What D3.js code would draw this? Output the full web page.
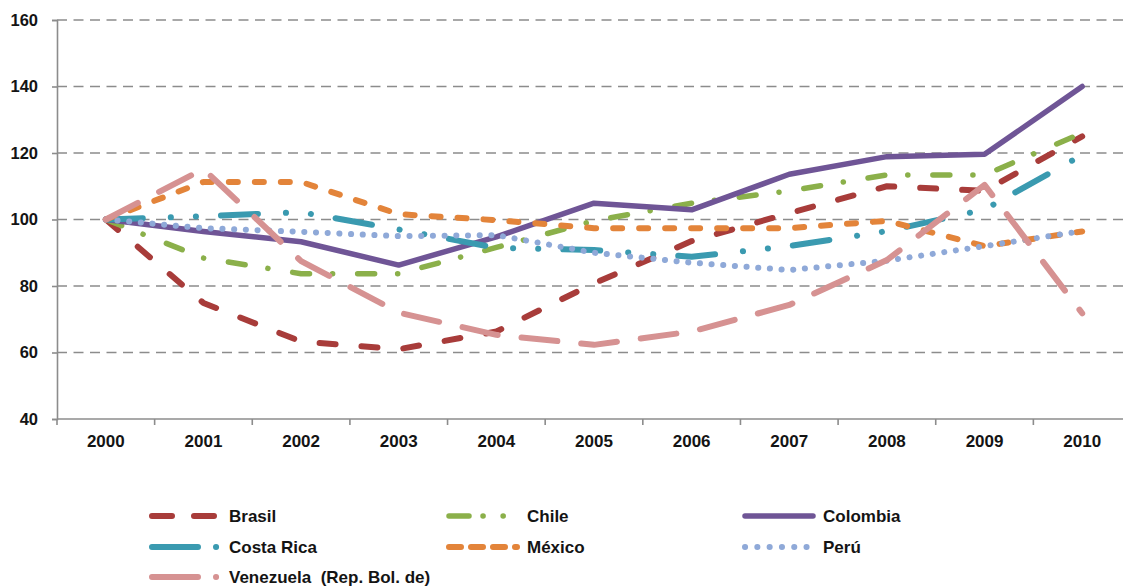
<!DOCTYPE html>
<html>
<head>
<meta charset="utf-8">
<script src="https://cdn.jsdelivr.net/npm/d3@7"></script>
<style>
  html, body { margin: 0; padding: 0; background: #ffffff; }
  svg { display: block; }
  text { font-family: "Liberation Sans", Arial, sans-serif; font-weight: bold; fill: #141414; }
</style>
</head>
<body>
<svg id="chart" width="1123" height="587"></svg>
<script>
const years = ["2000","2001","2002","2003","2004","2005","2006","2007","2008","2009","2010"];
const yTicks = [40, 60, 80, 100, 120, 140, 160];

const brasil     = [100, 74.9, 63.3, 61.0, 66.3, 80.8, 93.5, 101.9, 110.0, 108.6, 125.0];
const chile      = [100, 88.4, 83.7, 83.7, 91.6, 99.6, 104.9, 108.6, 113.4, 113.4, 126.0];
const colombia   = [100, 96.4, 93.3, 86.3, 94.8, 104.9, 102.9, 113.6, 118.9, 119.6, 140.0];
const costaRica  = [100, 101.0, 102.2, 97.0, 91.5, 90.8, 88.8, 92.0, 96.5, 103.0, 119.4];
const mexico     = [100, 111.3, 111.3, 101.6, 99.8, 97.4, 97.4, 97.4, 99.6, 92.0, 96.4];
const peru       = [100, 97.4, 96.3, 95.0, 95.3, 90.0, 87.0, 84.8, 87.6, 92.0, 96.5];
const venezuela  = [100, 115.2, 87.5, 72.0, 65.3, 62.3, 66.3, 74.3, 87.8, 110.4, 71.8];

const seriesNames = ["Brasil", "Chile", "Colombia", "Costa Rica", "México", "Perú", "Venezuela  (Rep. Bol. de)"];
const seriesValues = [brasil, chile, colombia, costaRica, mexico, peru, venezuela];

const styles = [
  { color: "#a83c3a", width: 6,   dash: "16 26",                 legendDash: "20 22" },
  { color: "#8bb04a", width: 5.5, dash: "17 23 0.1 25",          legendDash: "20 14 0.1 20 0.1 14" },
  { color: "#6f5596", width: 5.5, dash: null,                    legendDash: null },
  { color: "#3a9ab0", width: 6,   dash: "37 28 0.1 25 0.1 25",   legendDash: "46 18 0.1 30" },
  { color: "#e3843a", width: 6,   dash: "9 17",                  legendDash: "12 10" },
  { color: "#8fa9d8", width: 6,   dash: "0.1 11.6",              legendDash: "0.1 12.2" },
  { color: "#d69292", width: 6,   dash: "36 24",                 legendDash: "46 18 0.1 30" }
];

const svg = d3.select("#chart");
const mLeft = 57, mRight = 1131, mTop = 20, mBottom = 419;

const x = d3.scaleBand().domain(years).range([mLeft, mRight]);
const y = d3.scaleLinear().domain([40, 160]).range([mBottom, mTop]);

// gridlines
svg.append("g").selectAll("line")
  .data(yTicks.filter(t => t > 40))
  .join("line")
  .attr("x1", mLeft).attr("x2", 1123)
  .attr("y1", d => y(d)).attr("y2", d => y(d))
  .attr("stroke", "#8c8c8c").attr("stroke-width", 1.6)
  .attr("stroke-dasharray", "10 6.5");

// y axis
const yAxis = d3.axisLeft(y).tickValues(yTicks).tickSize(5).tickPadding(14).tickFormat(d3.format("d"));
const gy = svg.append("g").attr("transform", `translate(${mLeft},0)`).call(yAxis);
gy.select(".domain").attr("stroke", "#8c8c8c").attr("stroke-width", 1.6);
gy.selectAll(".tick line").attr("stroke", "#8c8c8c").attr("stroke-width", 1.6);
gy.selectAll(".tick text").style("font-size", "16.5px").attr("fill", "#141414")
  .style("font-family", '"Liberation Sans", Arial, sans-serif').style("font-weight", "bold");

// x axis
const xAxis = d3.axisBottom(x).tickSize(0).tickPadding(16);
const gx = svg.append("g").attr("transform", `translate(0,${mBottom})`).call(xAxis);
gx.select(".domain").remove();
gx.append("line").attr("x1", mLeft).attr("x2", 1123).attr("y1", 0).attr("y2", 0)
  .attr("stroke", "#8c8c8c").attr("stroke-width", 1.6);
gx.selectAll(".tick text").style("font-size", "17px").attr("fill", "#141414")
  .style("font-family", '"Liberation Sans", Arial, sans-serif').style("font-weight", "bold");
// band boundary ticks
const bounds = years.map(yy => x(yy)).concat([x(years[years.length - 1]) + x.bandwidth()]);
gx.append("g").selectAll("line").data(bounds).join("line")
  .attr("x1", d => d).attr("x2", d => d).attr("y1", 0).attr("y2", 6)
  .attr("stroke", "#8c8c8c").attr("stroke-width", 1.6);

// lines
const line = d3.line()
  .x((d, i) => x(years[i]) + x.bandwidth() / 2)
  .y(d => y(d));

const gl = svg.append("g");
seriesValues.forEach((vals, k) => {
  const st = styles[k];
  gl.append("path")
    .datum(vals)
    .attr("d", line)
    .attr("fill", "none")
    .attr("stroke", st.color)
    .attr("stroke-width", st.width)
    .attr("stroke-linecap", "round")
    .attr("stroke-linejoin", "round")
    .attr("stroke-dasharray", st.dash);
});

// legend
const legendPos = [
  { lx: 152, ly: 516, tx: 229 },
  { lx: 449, ly: 516, tx: 527 },
  { lx: 745, ly: 516, tx: 823 },
  { lx: 152, ly: 547, tx: 229 },
  { lx: 449, ly: 547, tx: 527 },
  { lx: 745, ly: 547, tx: 823 },
  { lx: 152, ly: 577, tx: 229 }
];
const lg = svg.append("g");
seriesNames.forEach((name, k) => {
  const p = legendPos[k], st = styles[k];
  lg.append("line")
    .attr("x1", p.lx).attr("x2", p.tx - 10)
    .attr("y1", p.ly).attr("y2", p.ly)
    .attr("stroke", st.color).attr("stroke-width", st.width)
    .attr("stroke-linecap", "round")
    .attr("stroke-dasharray", st.legendDash);
  lg.append("text")
    .attr("x", p.tx).attr("y", p.ly)
    .attr("dy", "0.36em")
    .style("font-size", "17px")
    .style("white-space", "pre")
    .text(name);
});
</script>
</body>
</html>
